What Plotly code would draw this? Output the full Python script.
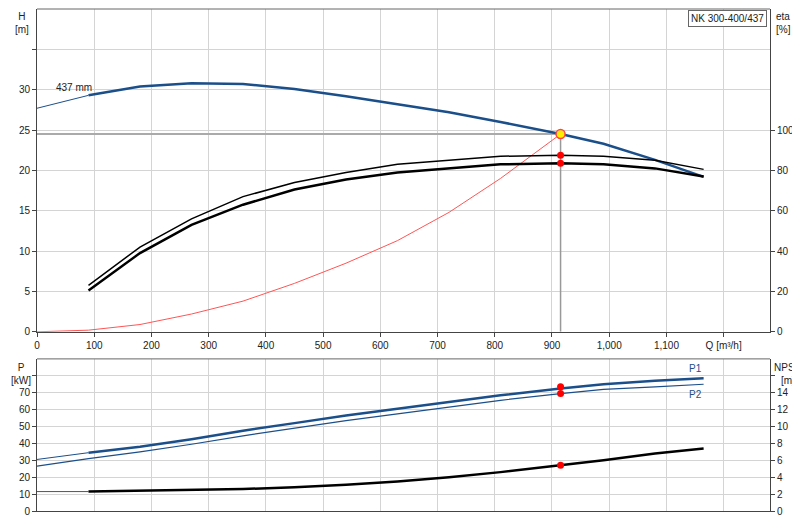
import plotly.graph_objects as go

Q = [0, 90, 180, 270, 360, 450, 540, 630, 720, 810, 915, 990, 1080, 1165]
H = [27.7, 29.3, 30.4, 30.8, 30.7, 30.1, 29.2, 28.2, 27.2, 26.0, 24.5, 23.3, 21.3, 19.2]
Qe = [90, 180, 270, 360, 450, 540, 630, 720, 810, 915, 990, 1080, 1165]
eta_hi = [23, 42, 56, 67, 74, 79, 83, 85, 87, 87.5, 87, 85, 80.5]
eta_lo = [20.5, 39, 53, 63, 70.5, 75.5, 79, 81, 83, 83.5, 83, 81, 77]
Qs = [0, 90, 180, 270, 360, 450, 540, 630, 720, 810, 915]
Hs = [0, 0.2, 0.9, 2.2, 3.8, 6.0, 8.5, 11.3, 14.8, 19.0, 24.5]
P1 = [30.5, 34.5, 38, 42.5, 47.5, 52, 56.5, 60.5, 64.5, 68.5, 72.5, 75, 77, 78.5]
P2 = [26.5, 31, 35, 39.5, 44.5, 49, 53.5, 57.5, 61.5, 65.5, 69.5, 72, 73.5, 75]
NPSH = [2.3, 2.3, 2.4, 2.5, 2.6, 2.8, 3.1, 3.5, 4.0, 4.6, 5.4, 6.0, 6.8, 7.4]
Qd, Hd = 915, 24.5
eta_d = [87.5, 83.5]
P_d = [73.5, 69.5]
NPSH_d = 5.4
xt = list(range(0, 1300, 100))
xtext = [f"{v:,}" for v in range(0, 1200, 100)] + ["Q [m³/h]"]

blue = "#1b4f8a"
fig = go.Figure()
# top panel
fig.add_trace(go.Scatter(x=[0, Qd], y=[Hd, Hd], mode="lines", line=dict(color="#aaaaaa", width=2), xaxis="x", yaxis="y"))
fig.add_trace(go.Scatter(x=[Qd, Qd], y=[0, Hd], mode="lines", line=dict(color="#999999", width=1.5), xaxis="x", yaxis="y"))
fig.add_trace(go.Scatter(x=Qs, y=Hs, mode="lines", line=dict(color="#ff5555", width=1), xaxis="x", yaxis="y"))
fig.add_trace(go.Scatter(x=Q[:2], y=H[:2], mode="lines", line=dict(color=blue, width=1), xaxis="x", yaxis="y"))
fig.add_trace(go.Scatter(x=Q[1:], y=H[1:], mode="lines", line=dict(color=blue, width=2.5), xaxis="x", yaxis="y"))
fig.add_trace(go.Scatter(x=Qe, y=eta_hi, mode="lines", line=dict(color="black", width=1.5), xaxis="x", yaxis="y2"))
fig.add_trace(go.Scatter(x=Qe, y=eta_lo, mode="lines", line=dict(color="black", width=2.5), xaxis="x", yaxis="y2"))
fig.add_trace(go.Scatter(x=[Qd, Qd], y=eta_d, mode="markers", marker=dict(color="red", size=7), xaxis="x", yaxis="y2"))
fig.add_trace(go.Scatter(x=[Qd], y=[Hd], mode="markers", marker=dict(color="#ffee00", size=9, line=dict(color="#ff4444", width=1.5)), xaxis="x", yaxis="y"))
# bottom panel
fig.add_trace(go.Scatter(x=Q[:2], y=P1[:2], mode="lines", line=dict(color=blue, width=1), xaxis="x2", yaxis="y3"))
fig.add_trace(go.Scatter(x=Q[1:], y=P1[1:], mode="lines", line=dict(color=blue, width=2.5), xaxis="x2", yaxis="y3"))
fig.add_trace(go.Scatter(x=Q, y=P2, mode="lines", line=dict(color=blue, width=1.2), xaxis="x2", yaxis="y3"))
fig.add_trace(go.Scatter(x=Q[:2], y=NPSH[:2], mode="lines", line=dict(color="#555555", width=1), xaxis="x2", yaxis="y4"))
fig.add_trace(go.Scatter(x=Q[1:], y=NPSH[1:], mode="lines", line=dict(color="black", width=2.5), xaxis="x2", yaxis="y4"))
fig.add_trace(go.Scatter(x=[Qd, Qd], y=P_d, mode="markers", marker=dict(color="red", size=7), xaxis="x2", yaxis="y3"))
fig.add_trace(go.Scatter(x=[Qd], y=[NPSH_d], mode="markers", marker=dict(color="red", size=7), xaxis="x2", yaxis="y4"))

grid = "#d4d4d4"
ax = dict(showgrid=True, gridcolor=grid, zeroline=False, showline=True, linecolor="#444", ticks="outside", ticklen=4, tickcolor="#444", automargin=False)
fig.update_layout(
    width=800, height=520, showlegend=False, plot_bgcolor="white", paper_bgcolor="white",
    margin=dict(l=29, r=38, t=1, b=17, autoexpand=False),
    font=dict(family="Liberation Sans, Arial", size=10, color="#222"),
    xaxis=dict(ax, domain=[0, 1], range=[0, 1281], tickvals=xt, ticktext=xtext, anchor="y"),
    yaxis=dict(ax, domain=[0.357, 1], range=[0, 40], tickvals=[0, 5, 10, 15, 20, 25, 30, 35], ticktext=["0", "5", "10", "15", "20", "25", "30", ""]),
    yaxis2=dict(ax, overlaying="y", side="right", range=[0, 160], tickvals=[0, 20, 40, 60, 80, 100], showgrid=False, anchor="x"),
    xaxis2=dict(ax, domain=[0, 1], range=[0, 1281], tickvals=xt, showticklabels=False, ticks="", anchor="y3"),
    yaxis3=dict(ax, domain=[0, 0.303], range=[0, 90], tickvals=list(range(0, 90, 10)), ticktext=[str(v) for v in range(0, 80, 10)] + [""], anchor="x2"),
    yaxis4=dict(ax, overlaying="y3", side="right", range=[0, 18], tickvals=list(range(0, 18, 2)), ticktext=[str(v) for v in range(0, 16, 2)] + [""], showgrid=False, anchor="x2"),
)
fig.update_layout(shapes=[dict(type="line", xref="x", yref="paper", x0=0, x1=1281, y0=1, y1=1, line=dict(color="#666", width=1)),
                          dict(type="line", xref="x2", yref="paper", x0=0, x1=1281, y0=0.303, y1=0.303, line=dict(color="#666", width=1))])
ann = [
    dict(text="H<br>[m]", x=0, y=1, xref="paper", yref="paper", xanchor="right", yanchor="top", xshift=-6, showarrow=False, align="center"),
    dict(text="eta<br>[%]", x=1, y=1, xref="paper", yref="paper", xanchor="left", yanchor="top", xshift=4, showarrow=False, align="left"),
    dict(text="NK 300-400/437", x=1, y=0.998, xref="paper", yref="paper", xanchor="right", yanchor="top", xshift=-3, showarrow=False, bordercolor="#666", borderwidth=1, borderpad=2, bgcolor="white"),
    dict(text="437 mm", x=30, y=30.3, xref="x", yref="y", xanchor="left", showarrow=False),
    dict(text="P<br>[kW]", x=0, y=0.30, xref="paper", yref="paper", xanchor="right", yanchor="top", xshift=-4, showarrow=False, align="center"),
    dict(text="NPSH<br>[m]", x=1, y=0.30, xref="paper", yref="paper", xanchor="left", yanchor="top", xshift=2, showarrow=False, align="center"),
    dict(text="P1", x=1165, y=80, xref="x2", yref="y3", xanchor="right", yanchor="bottom", showarrow=False, font=dict(color=blue)),
    dict(text="P2", x=1165, y=73.5, xref="x2", yref="y3", xanchor="right", yanchor="top", showarrow=False, font=dict(color=blue)),
]
fig.update_layout(annotations=ann)
fig.write_html("out.html")
